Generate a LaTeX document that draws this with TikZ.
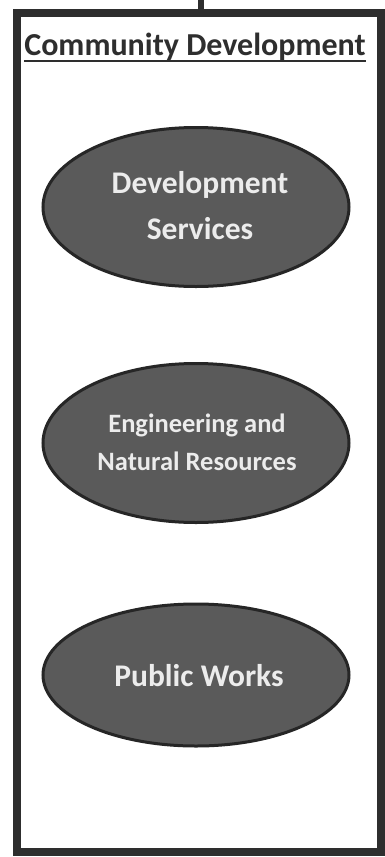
\documentclass[tikz,border=0pt]{standalone}
\usepackage{fontspec}
\setmainfont{Carlito}
\usetikzlibrary{shapes.geometric}
\definecolor{frameink}{HTML}{2E2E2E}
\definecolor{ovalfill}{HTML}{5A5A5A}
\definecolor{ovalink}{HTML}{262626}
\definecolor{ovaltext}{HTML}{ECECEC}
\begin{document}
\begin{tikzpicture}[x=1pt,y=-1pt,
  unit/.style={ellipse, draw=ovalink, line width=3pt, fill=ovalfill, inner sep=0pt},
  label/.style={text=ovaltext, align=center, anchor=base, inner sep=0pt},
  frame/.style={draw=frameink, line width=8pt}]
  \useasboundingbox (0,0) rectangle (385,857);
  \fill[white] (0,0) rectangle (385,857);
  % outer department box
  \draw[frame] (16.5,12.5) rectangle (381,852);
  % link up to the parent chart
  \coordinate (up) at (201,0);
  \coordinate (boxtop) at (201,9);
  \draw[frameink, line width=6pt] (up) -- (boxtop);
  % heading, with a heavy underline
  \node[font=\fontsize{32}{32}\selectfont\bfseries, text=frameink, anchor=base, inner sep=0pt] (head) at (195,55)
    {Community Development};
  \draw[frameink, line width=2.5pt] ([yshift=-6pt]head.base west) -- ([yshift=-6pt]head.base east);
  % divisions (label anchored at the baseline of its last line)
  \node[unit, minimum width=306, minimum height=159] (dev) at (196,207) {};
  \node[label, font=\fontsize{31.5}{46}\selectfont\bfseries] at (200,239) {Development\\Services};
  \node[unit, minimum width=306, minimum height=159] (eng) at (196,443) {};
  \node[label, font=\fontsize{26.5}{38}\selectfont\bfseries] at (197,470) {Engineering and\\Natural Resources};
  \node[unit, minimum width=306, minimum height=142] (pw) at (196,675) {};
  \node[label, font=\fontsize{31.5}{32}\selectfont\bfseries] at (199,686) {Public Works};
\end{tikzpicture}
\end{document}
